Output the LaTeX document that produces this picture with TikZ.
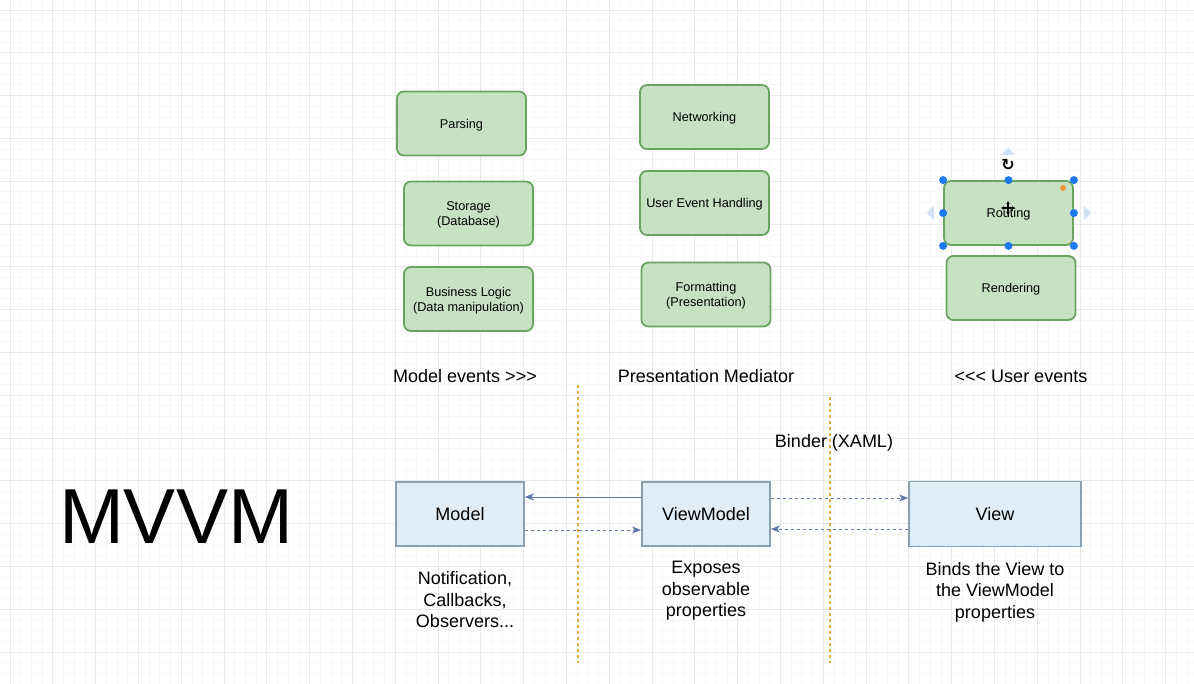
\documentclass[tikz,border=0pt]{standalone}
\usepackage{fontspec}
\setmainfont{Liberation Sans}[Ligatures=TeXOff]
\newfontfamily\symfont{DejaVu Sans}
\usetikzlibrary{arrows.meta,shapes.geometric}
\definecolor{greenfill}{RGB}{198,226,195}
\definecolor{greenline}{RGB}{104,165,94}
\definecolor{bluefill}{RGB}{222,237,248}
\definecolor{blueline}{RGB}{139,160,174}
\definecolor{arrowcol}{RGB}{94,120,170}
\definecolor{orangeline}{RGB}{232,170,60}
\definecolor{gridminor}{RGB}{247,247,247}
\definecolor{gridmajor}{RGB}{233,233,233}
\definecolor{handleblue}{RGB}{30,120,240}
\definecolor{handlepale}{RGB}{208,226,245}
\definecolor{handleorange}{RGB}{245,150,60}
\tikzset{
  smalltext/.style={font=\fontsize{12.7}{15.2}\selectfont},
  bigtext/.style={font=\fontsize{18}{21.5}\selectfont, align=center},
  greenbox/.style={draw=greenline, fill=greenfill, line width=1.8pt, rounded corners=7pt,
    minimum width=129pt, minimum height=64pt, align=center, smalltext, inner sep=2pt,
    text depth=-1.4pt},
  bluebox/.style={draw=blueline, fill=bluefill, line width=1.8pt,
    minimum width=128pt, minimum height=64pt, align=center, font=\fontsize{18}{21.5}\selectfont},
  solidarrow/.style={draw=arrowcol, line width=1pt, -{Stealth[length=9pt,width=7pt,inset=2.5pt]}},
  dasharrow/.style={solidarrow, dash pattern=on 3pt off 3pt},
  sepline/.style={draw=orangeline, line width=1.2pt, dash pattern=on 3pt off 3pt},
  handle/.style={circle, fill=handleblue, inner sep=0pt, minimum size=8pt},
}
\begin{document}
\begin{tikzpicture}[x=1pt,y=-1pt]
\useasboundingbox (0,0) rectangle (1194,684);
\fill[white] (0,0) rectangle (1194,684);
% grid
\foreach \i in {0,...,112} {
  \draw[gridminor, line width=0.8pt] ({-0.7+10.7*\i},0) -- ({-0.7+10.7*\i},684);
}
\foreach \i in {0,...,64} {
  \draw[gridminor, line width=0.8pt] (0,{-0.7+10.7*\i}) -- (1194,{-0.7+10.7*\i});
}
\foreach \i in {0,...,28} {
  \draw[gridmajor, line width=0.9pt] ({10+42.8*\i},0) -- ({10+42.8*\i},684);
}
\foreach \i in {0,...,16} {
  \draw[gridmajor, line width=0.9pt] (0,{10+42.8*\i}) -- (1194,{10+42.8*\i});
}

% separators
\coordinate (s1top) at (578,385);
\coordinate (s1bot) at (578,663);
\coordinate (s2top) at (830,397);
\coordinate (s2bot) at (830,663);
\draw[sepline] (s1top) -- (s1bot);
\draw[sepline] (s2top) -- (s2bot);

% top boxes
\node[greenbox] (parsing) at (461.5,123.5) {Parsing};
\node[greenbox] (storage) at (468.5,213.5) {Storage\\(Database)};
\node[greenbox] (business) at (468.5,299) {Business Logic\\(Data manipulation)};
\node[greenbox] (networking) at (704.5,117) {Networking};
\node[greenbox] (ueh) at (704.5,203) {User Event Handling};
\node[greenbox] (formatting) at (706,294.5) {Formatting\\(Presentation)};
\node[greenbox] (routing) at (1008.5,213) {Routing};
\node[greenbox] (rendering) at (1011,288) {Rendering};

% selection decorations on Routing
\node[handle] (h1) at (routing.north west) {};
\node[handle] (h2) at (routing.north) {};
\node[handle] (h3) at (routing.north east) {};
\node[handle] (h4) at (routing.west) {};
\node[handle] (h5) at (routing.east) {};
\node[handle] (h6) at (routing.south west) {};
\node[handle] (h7) at (routing.south) {};
\node[handle] (h8) at (routing.south east) {};
\node[circle, fill=handleorange, inner sep=0pt, minimum size=6pt] (hor) at (1063,188) {};
\node[font=\symfont\bfseries\fontsize{16}{16}\selectfont] (rot) at (1008,165) {↻};
\node[isosceles triangle, isosceles triangle apex angle=90, fill=handlepale, inner sep=0pt, minimum height=7pt, shape border rotate=90] (tup) at (1008,152) {};
\node[isosceles triangle, isosceles triangle apex angle=90, fill=handlepale, inner sep=0pt, minimum height=7pt, shape border rotate=180] (tleft) at (931,213) {};
\node[isosceles triangle, isosceles triangle apex angle=90, fill=handlepale, inner sep=0pt, minimum height=7pt, shape border rotate=0] (tright) at (1087,213) {};
\coordinate (cur) at (1008,208);
\draw[black, line width=1.5pt, {Latex[length=3pt,width=4pt]}-{Latex[length=3pt,width=4pt]}] ([xshift=-7pt]cur) -- ([xshift=7pt]cur);
\draw[black, line width=1.5pt, {Latex[length=3pt,width=4pt]}-{Latex[length=3pt,width=4pt]}] ([yshift=-7pt]cur) -- ([yshift=7pt]cur);

% labels
\node[bigtext] (lme) at (465,376) {Model events >>>};
\node[bigtext] (lpm) at (706,376) {Presentation Mediator};
\node[bigtext] (lue) at (1021,376) {<<< User events};
\node[bigtext] (lbind) at (834,443) {Binder (XAML)};

\node[font=\fontsize{78}{80}\selectfont] (mvvm) at (176,517) {MVVM};

% bottom boxes
\node[bluebox] (model) at (460,514) {Model};
\node[bluebox] (vm) at (706,514) {ViewModel};
\node[bluebox, minimum width=172pt, minimum height=65pt] (view) at (995,514) {View};

\draw[solidarrow] ([yshift=17pt]vm.west) -- ([yshift=17pt]model.east);
\draw[dasharrow] ([yshift=-16pt]model.east) -- ([yshift=-16pt]vm.west);
\draw[dasharrow] ([yshift=16pt]vm.east) -- ([yshift=16pt]vm.east -| view.west);
\draw[dasharrow] ([yshift=-15pt]view.west) -- ([yshift=-15pt]view.west -| vm.east);

\node[bigtext] (nmodel) at (465,600) {Notification,\\Callbacks,\\Observers...};
\node[bigtext] (nvm) at (706,591) {Exposes\\observable\\properties};
\node[bigtext] (nview) at (995,592) {Binds the View to\\the ViewModel\\properties};
\end{tikzpicture}
\end{document}
